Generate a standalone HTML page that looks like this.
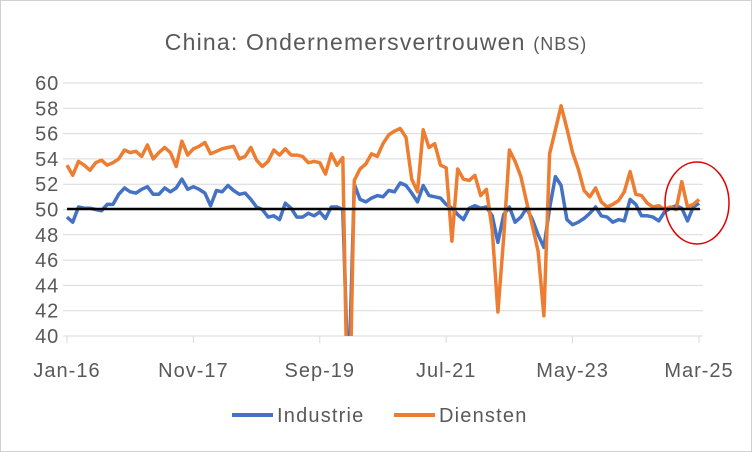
<!DOCTYPE html>
<html><head><meta charset="utf-8"><style>
html,body{margin:0;padding:0;background:#fff}
svg{display:block;font-family:"Liberation Sans",sans-serif}
</style></head><body>
<svg id="s" width="752" height="452" viewBox="0 0 752 452">
<rect x="0.5" y="0.5" width="751" height="451" fill="#fff" stroke="#d0d0d0"/>
<text x="376" y="50" text-anchor="middle" font-size="23" letter-spacing="1.2" fill="#595959">China: Ondernemersvertrouwen <tspan font-size="18" letter-spacing="1">(NBS)</tspan></text>
<g id="grid"></g>
<defs><clipPath id="c"><rect x="60" y="70" width="650" height="266"/></clipPath></defs>
<g clip-path="url(#c)">
<polyline id="ind" fill="none" stroke="#4472c4" stroke-width="3.5" stroke-linejoin="round"/>
<polyline id="die" fill="none" stroke="#ed7d31" stroke-width="3.5" stroke-linejoin="round"/>
</g>
<line x1="67" y1="209" x2="700" y2="209" stroke="#000" stroke-width="2.5"/>
<ellipse cx="697" cy="203" rx="32" ry="41" fill="none" stroke="#e00000" stroke-width="1.5"/>
<line x1="232" y1="415" x2="273" y2="415" stroke="#4472c4" stroke-width="4"/>
<text x="277" y="422" font-size="20" letter-spacing="1.2" fill="#595959">Industrie</text>
<line x1="394" y1="415" x2="435" y2="415" stroke="#ed7d31" stroke-width="4"/>
<text x="439" y="422" font-size="20" letter-spacing="1.2" fill="#595959">Diensten</text>
</svg>
<script>
var ind=[49.4,49.0,50.2,50.1,50.1,50.0,49.9,50.4,50.4,51.2,51.7,51.4,
51.3,51.6,51.8,51.2,51.2,51.7,51.4,51.7,52.4,51.6,51.8,51.6,
51.3,50.3,51.5,51.4,51.9,51.5,51.2,51.3,50.8,50.2,50.0,49.4,
49.5,49.2,50.5,50.1,49.4,49.4,49.7,49.5,49.8,49.3,50.2,50.2,
50.0,35.7,52.0,50.8,50.6,50.9,51.1,51.0,51.5,51.4,52.1,51.9,
51.3,50.6,51.9,51.1,51.0,50.9,50.4,50.1,49.6,49.2,50.1,50.3,
50.1,50.2,49.5,47.4,49.6,50.2,49.0,49.4,50.1,49.2,48.0,47.0,
50.1,52.6,51.9,49.2,48.8,49.0,49.3,49.7,50.2,49.5,49.4,49.0,
49.2,49.1,50.8,50.4,49.5,49.5,49.4,49.1,49.8,50.1,50.3,50.1,
49.1,50.2,50.5];
var die=[53.5,52.7,53.8,53.5,53.1,53.7,53.9,53.5,53.7,54.0,54.7,54.5,
54.6,54.2,55.1,54.0,54.5,54.9,54.5,53.4,55.4,54.3,54.8,55.0,
55.3,54.4,54.6,54.8,54.9,55.0,54.0,54.2,54.9,53.9,53.4,53.8,
54.7,54.3,54.8,54.3,54.3,54.2,53.7,53.8,53.7,52.8,54.4,53.5,
54.1,29.6,52.3,53.2,53.6,54.4,54.2,55.2,55.9,56.2,56.4,55.7,
52.4,51.4,56.3,54.9,55.2,53.5,53.3,47.5,53.2,52.4,52.3,52.7,
51.1,51.6,48.4,41.9,47.8,54.7,53.8,52.6,50.6,48.7,46.7,41.6,
54.4,56.3,58.2,56.4,54.5,53.2,51.5,51.0,51.7,50.6,50.2,50.4,
50.7,51.4,53.0,51.2,51.1,50.5,50.2,50.3,50.0,50.2,50.0,52.2,
50.2,50.4,50.8];
function X(i){return 67+i*632/110}
function Y(v){return 336-(v-40)*253/20}
function pts(a){return a.map(function(v,i){return X(i).toFixed(1)+','+Y(v).toFixed(1)}).join(' ')}
document.getElementById('ind').setAttribute('points',pts(ind));
document.getElementById('die').setAttribute('points',pts(die));
var g='';
for(var v=40;v<=60;v+=2){var y=Y(v);
 if(v>40) g+='<line x1="63" x2="703" y1="'+y+'" y2="'+y+'" stroke="#d9d9d9" stroke-width="1"/>';
 g+='<text x="59" y="'+(y+7)+'" text-anchor="end" font-size="20" letter-spacing="0.8" fill="#595959">'+v+'</text>';}
g+='<line x1="63" x2="703" y1="336" y2="336" stroke="#d9d9d9" stroke-width="1"/>';
var L=['Jan-16','Nov-17','Sep-19','Jul-21','May-23','Mar-25'];
for(var k=0;k<6;k++){var x=X(k*22);
 g+='<line x1="'+x+'" x2="'+x+'" y1="336" y2="343" stroke="#d9d9d9"/>';
 g+='<text x="'+x+'" y="377" text-anchor="middle" font-size="20" letter-spacing="1" fill="#595959">'+L[k]+'</text>';}
document.getElementById('grid').innerHTML=g;
</script>
</body></html>
